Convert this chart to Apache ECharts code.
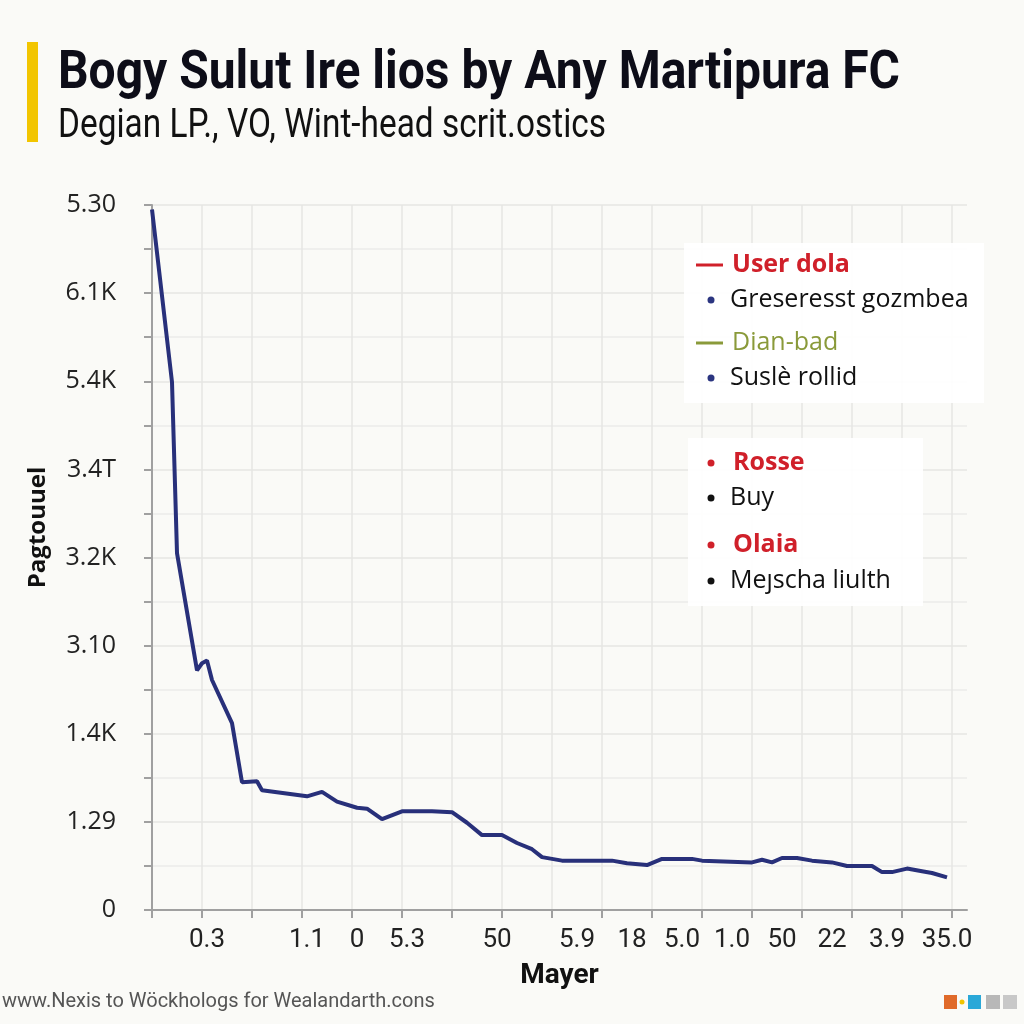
<!DOCTYPE html>
<html>
<head>
<meta charset="utf-8">
<script src="https://cdn.jsdelivr.net/npm/echarts@6/dist/echarts.min.js"></script>
<style>
  html, body { margin: 0; padding: 0; background: #fafaf7; }
  #chart { width: 1024px; height: 1024px; }
</style>
</head>
<body>
<div id="chart"></div>
<script>
// tick labels as printed on the chart
const yTickLabels = ['0', '1.29', '1.4K', '3.10', '3.2K', '3.4T', '5.4K', '6.1K', '5.30'];
const xTickLabels = ['0.3', '1.1', '0', '5.3', '50', '5.9', '18', '5.0', '1.0', '50', '22', '3.9', '35.0'];
const xTickIdx = [11, 31, 41, 51, 69, 85, 96, 106, 116, 126, 136, 147, 159];
const xSlots = 164;

// line series: [slot, value]
const lineX = [0, 4, 5, 9, 10, 11, 12, 16, 18, 21, 22, 31, 34, 37, 41, 43, 46, 50, 56, 60,
  63, 66, 70, 73, 76, 78, 82, 92, 95, 99, 102, 108, 110, 120, 122, 124, 126, 129, 132, 136,
  139, 144, 146, 148, 151, 154, 156, 159];
const lineY = [7.95, 5.99, 4.05, 2.72, 2.80, 2.83, 2.61, 2.12, 1.45, 1.46, 1.36, 1.29, 1.34, 1.23, 1.16, 1.15, 1.03, 1.12, 1.12, 1.11,
  0.99, 0.85, 0.85, 0.76, 0.69, 0.60, 0.56, 0.56, 0.53, 0.51, 0.58, 0.58, 0.56, 0.54, 0.57, 0.54, 0.59, 0.59, 0.56, 0.54,
  0.50, 0.50, 0.43, 0.43, 0.47, 0.44, 0.42, 0.37];

// legend entries
const legendTop = [
  { kind: 'line', color: '#d0202a', text: 'User dola', textColor: '#d0202a', bold: true },
  { kind: 'dot', color: '#2b3580', text: 'Greseresst gozmbea', textColor: '#111', bold: false },
  { kind: 'line', color: '#8a9a3a', text: 'Dian-bad', textColor: '#8a9a3a', bold: false },
  { kind: 'dot', color: '#2b3580', text: 'Suslè rollid', textColor: '#111', bold: false }
];
const legendBottom = [
  { kind: 'dot', color: '#d0202a', text: 'Rosse', textColor: '#d0202a', bold: true },
  { kind: 'dot', color: '#111', text: 'Buy', textColor: '#111', bold: false },
  { kind: 'dot', color: '#d0202a', text: 'Olaia', textColor: '#d0202a', bold: true },
  { kind: 'dot', color: '#111', text: 'Meȷscha liulth', textColor: '#111', bold: false }
];

const titleText = 'Bogy Sulut Ire lios by Any Martipura FC';
const subText = 'Degian LP., VO, Wint-head scrit.ostics';

const xCats = [];
for (let i = 0; i < xSlots; i++) xCats.push('');
xTickIdx.forEach((idx, i) => { xCats[idx] = xTickLabels[i]; });

const lineData = lineX.map((x, i) => [x, lineY[i]]);

// squeeze a text horizontally so it spans the wanted width
const measureCtx = document.createElement('canvas').getContext('2d');
function squeeze(text, font, width) {
  measureCtx.font = font;
  return Math.min(1, width / measureCtx.measureText(text).width);
}
const titleScale = squeeze(titleText, 'bold 54px Roboto', 842);
const subScale = squeeze(subText, '40px Roboto', 548);

const chart = echarts.init(document.getElementById('chart'));

// legend graphics
const legendEls = [];
function addLegend(items, y0, gaps) {
  let y = y0;
  items.forEach((item, i) => {
    if (item.kind === 'line') {
      legendEls.push({ type: 'rect', z: 110, shape: { x: 696, y: y - 1.5, width: 27, height: 3 }, style: { fill: item.color } });
    } else {
      legendEls.push({ type: 'circle', z: 110, shape: { cx: 711, cy: y, r: 3.5 }, style: { fill: item.color } });
    }
    legendEls.push({
      type: 'text', z: 110, x: item.kind === 'line' ? 732 : (item.bold ? 733 : 730), y: y,
      style: {
        text: item.text, fill: item.textColor, fontFamily: 'Open Sans',
        fontSize: 25, fontWeight: item.bold ? 'bold' : 'normal', verticalAlign: 'middle'
      }
    });
    y += gaps[i] || 0;
  });
}
legendEls.push({ type: 'rect', z: 100, shape: { x: 684, y: 243, width: 300, height: 160 }, style: { fill: 'rgba(255,255,255,0.92)' } });
legendEls.push({ type: 'rect', z: 100, shape: { x: 688, y: 438, width: 235, height: 168 }, style: { fill: 'rgba(255,255,255,0.92)' } });
addLegend(legendTop, 265, [35, 43, 35]);
addLegend(legendBottom, 463, [35, 47, 36]);

const option = {
  backgroundColor: '#fafaf7',
  animation: false,
  grid: { left: 152, right: 57, top: 205, bottom: 114 },
  xAxis: {
    type: 'category',
    data: xCats,
    boundaryGap: false,
    name: 'Mayer',
    nameLocation: 'middle',
    nameGap: 52,
    nameTextStyle: { fontFamily: 'Roboto', fontWeight: 'bold', fontSize: 28, color: '#111' },
    axisLine: { lineStyle: { color: '#a0a0a0', width: 2 } },
    axisTick: { show: true, length: 8, interval: i => i % 10 === 0, lineStyle: { color: '#a0a0a0', width: 2 } },
    axisLabel: { interval: 0, margin: 17, fontFamily: 'Roboto', fontSize: 26, color: '#222' },
    splitLine: { show: true, interval: i => i % 10 === 0, lineStyle: { color: '#e6e6e3', width: 1.5 } }
  },
  yAxis: {
    type: 'value',
    min: 0,
    max: 8,
    interval: 1,
    name: 'Pagtouuel',
    nameLocation: 'middle',
    nameGap: 102,
    nameTextStyle: { fontFamily: 'Open Sans', fontWeight: 'bold', fontSize: 24, color: '#111', padding: [0, 0, 0, 60] },
    axisLine: { show: true, lineStyle: { color: '#a0a0a0', width: 2 } },
    axisTick: { show: true, length: 8, lineStyle: { color: '#a0a0a0', width: 2 } },
    minorTick: { show: true, splitNumber: 2, length: 8, lineStyle: { color: '#a0a0a0', width: 2 } },
    axisLabel: {
      margin: 36, fontFamily: 'Open Sans', fontSize: 25, color: '#222',
      formatter: v => (Number.isInteger(v) ? yTickLabels[v] : '')
    },
    splitLine: { show: true, lineStyle: { color: '#e6e6e3', width: 1.5 } },
    minorSplitLine: { show: true, lineStyle: { color: '#ececea', width: 1.5 } }
  },
  series: [{
    type: 'line',
    data: lineData,
    showSymbol: false,
    lineStyle: { color: '#28307a', width: 4 },
    z: 3
  }],
  graphic: [
    { type: 'rect', shape: { x: 27, y: 42, width: 11, height: 100 }, style: { fill: '#f2c500' } },
    {
      type: 'text', x: 58, y: 74, scaleX: titleScale,
      style: { text: titleText, fill: '#0d0d18', fontFamily: 'Roboto', fontWeight: 'bold', fontSize: 54, verticalAlign: 'middle' }
    },
    {
      type: 'text', x: 58, y: 127, scaleX: subScale,
      style: { text: subText, fill: '#111', fontFamily: 'Roboto', fontSize: 40, verticalAlign: 'middle' }
    },
    {
      type: 'text', x: 2, y: 1002,
      style: { text: 'www.Nexis to Wöckhologs for Wealandarth.cons', fill: '#555', fontFamily: 'Roboto', fontSize: 20, verticalAlign: 'middle' }
    },
    { type: 'rect', shape: { x: 944, y: 995, width: 13, height: 14 }, style: { fill: '#e06a2a' } },
    { type: 'circle', shape: { cx: 962, cy: 1002, r: 2.5 }, style: { fill: '#f2c500' } },
    { type: 'rect', shape: { x: 968, y: 995, width: 13, height: 14 }, style: { fill: '#2aa8d8' } },
    { type: 'rect', shape: { x: 986, y: 995, width: 14, height: 14 }, style: { fill: '#b8b8b8' } },
    { type: 'rect', shape: { x: 1003, y: 995, width: 14, height: 14 }, style: { fill: '#c8c8c8' } }
  ].concat(legendEls)
};

chart.setOption(option);
</script>
</body>
</html>
